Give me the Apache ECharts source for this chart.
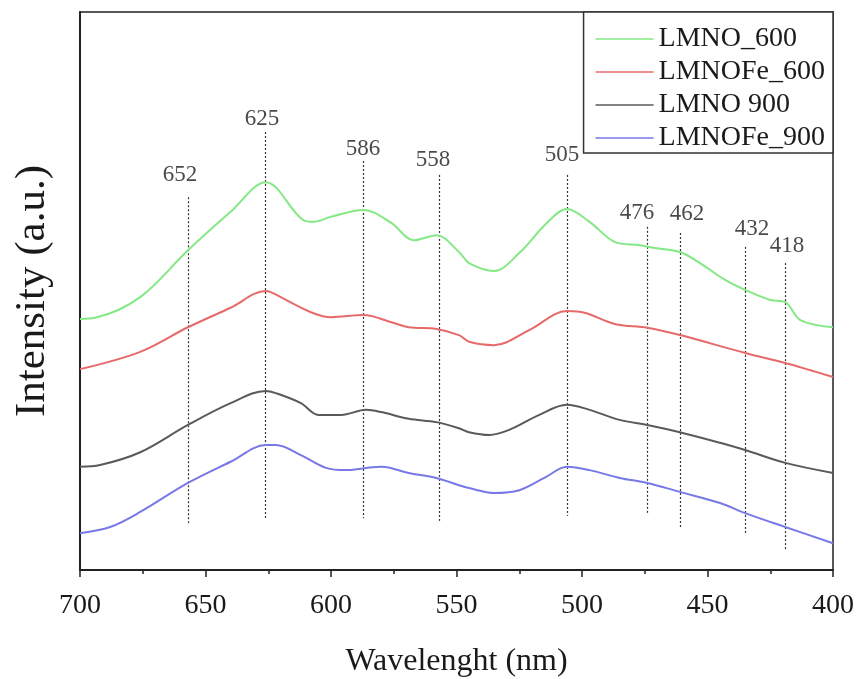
<!DOCTYPE html>
<html>
<head>
<meta charset="utf-8">
<script src="https://cdn.jsdelivr.net/npm/echarts@6.0.0/dist/echarts.min.js"></script>
<style>
  html, body { margin: 0; padding: 0; background: #fff; }
  #chart { width: 861px; height: 679px; }
</style>
</head>
<body>
<div id="chart"></div>
<script>
// wavelength (nm) / intensity (a.u., offset curves)
const lmno600W = [700, 694, 676, 657, 640, 626, 611, 607, 600, 587, 576, 567, 558, 549, 545, 535, 525, 514, 506, 497, 487, 477, 471, 461, 453, 443, 435, 425, 419, 413, 400];
const lmno600I = [45.0, 45.2, 48.9, 57.3, 64.2, 69.5, 62.7, 62.4, 63.3, 64.5, 62.2, 59.1, 60.0, 57.0, 55.0, 53.6, 56.8, 62.2, 64.7, 62.4, 58.8, 58.2, 57.7, 57.0, 55.0, 52.0, 50.2, 48.4, 48.0, 44.8, 43.5];

const lmnoFe600W = [700, 676, 657, 640, 626, 624, 608, 600, 587, 576, 569, 558, 549, 545, 535, 521, 506, 499, 487, 474, 461, 435, 419, 409, 400];
const lmnoFe600I = [36.0, 39.1, 43.5, 47.0, 50.0, 49.8, 46.2, 45.3, 45.7, 44.4, 43.5, 43.2, 42.1, 40.9, 40.3, 43.0, 46.4, 46.1, 44.1, 43.4, 42.1, 38.9, 37.1, 35.8, 34.6];

const lmno900W = [700, 692, 676, 657, 640, 626, 622, 612, 605, 596, 586, 580, 569, 558, 549, 545, 537, 529, 517, 506, 497, 485, 474, 461, 445, 435, 419, 400];
const lmno900I = [18.5, 18.8, 21.1, 26.0, 29.9, 32.1, 31.7, 29.9, 27.8, 27.8, 28.7, 28.3, 27.1, 26.5, 25.4, 24.7, 24.2, 25.1, 27.8, 29.6, 28.7, 26.9, 26.0, 24.7, 22.8, 21.5, 19.2, 17.4];

const lmnoFe900W = [700, 688, 676, 657, 640, 626, 622, 612, 602, 594, 586, 580, 569, 558, 549, 545, 535, 525, 515, 506, 497, 485, 474, 461, 445, 435, 419, 400];
const lmnoFe900I = [6.6, 7.7, 10.4, 15.6, 19.4, 22.4, 22.4, 20.6, 18.3, 17.9, 18.3, 18.5, 17.4, 16.5, 15.2, 14.7, 13.8, 14.3, 16.5, 18.5, 17.9, 16.5, 15.6, 14.0, 12.0, 10.2, 7.7, 4.8];

// peak markers: label text, dashed line position, line top/bottom, label anchor
const peakNames = ['652', '625', '586', '558', '505', '476', '462', '432', '418'];
const peakLineW = [657, 626, 587, 557, 506, 474, 461, 435, 419];
const peakTop = [66.8, 78.5, 73.3, 70.8, 70.8, 61.5, 60.4, 57.9, 55.0];
const peakBottom = [8.4, 9.3, 9.3, 8.8, 9.7, 10.2, 7.7, 6.6, 3.6];
const peakLabelW = [660.2, 627.5, 587.3, 559.4, 508.0, 478.1, 458.2, 432.3, 418.3];
const peakLabelI = [70.8, 80.8, 75.4, 73.5, 74.4, 64.0, 63.8, 61.1, 58.1];

const seriesNames = ['LMNO_600', 'LMNOFe_600', 'LMNO 900', 'LMNOFe_900'];
const seriesColors = ['#84e884', '#e66a6a', '#5a5a5a', '#7878e6'];

const FONT = '"Liberation Serif", "Times New Roman", serif';

const zip = (xs, ys) => xs.map((x, i) => [x, ys[i]]);

const curves = [
  zip(lmno600W, lmno600I),
  zip(lmnoFe600W, lmnoFe600I),
  zip(lmno900W, lmno900I),
  zip(lmnoFe900W, lmnoFe900I)
];

const peakLines = peakLineW.map((w, i) => [
  { coord: [w, peakTop[i]] },
  { coord: [w, peakBottom[i]] }
]);

const chart = echarts.init(document.getElementById('chart'));

const series = curves.map((data, i) => ({
  name: seriesNames[i],
  type: 'line',
  data: data,
  smooth: 0.35,
  symbol: 'none',
  lineStyle: { color: seriesColors[i], width: 2 },
  itemStyle: { color: seriesColors[i] },
  z: 3
}));

series[2].markLine = {
  silent: true,
  symbol: ['none', 'none'],
  label: { show: false },
  lineStyle: { color: '#333', type: [2, 2], width: 1.2 },
  data: peakLines,
  z: 2
};

series.push({
  name: 'peaks',
  type: 'scatter',
  data: peakLabelW.map((w, i) => [w, peakLabelI[i], peakNames[i]]),
  symbolSize: 0,
  silent: true,
  label: {
    show: true,
    position: 'inside',
    formatter: p => p.value[2],
    color: '#1a1a1a',
    fontFamily: FONT,
    fontSize: 23
  },
  z: 4
});

chart.setOption({
  backgroundColor: '#fff',
  animation: false,
  grid: {
    left: 80,
    right: 28,
    top: 12,
    bottom: 109,
    outerBoundsMode: 'none',
    containLabel: false,
    show: true,
    borderColor: '#222',
    borderWidth: 1.5
  },
  legend: {
    data: seriesNames,
    orient: 'vertical',
    right: 28,
    top: 12,
    icon: 'rect',
    itemWidth: 58,
    itemHeight: 1.5,
    itemGap: 3,
    padding: [12, 8, 0, 12],
    backgroundColor: '#fff',
    borderColor: '#333',
    borderWidth: 1.5,
    textStyle: {
      color: '#1a1a1a',
      fontFamily: FONT,
      fontSize: 28,
      lineHeight: 30
    }
  },
  xAxis: {
    type: 'value',
    inverse: true,
    min: 400,
    max: 700,
    interval: 50,
    name: 'Wavelenght (nm)',
    nameLocation: 'middle',
    nameGap: 76,
    nameTextStyle: { color: '#1a1a1a', fontFamily: FONT, fontSize: 32 },
    axisLine: { show: true, lineStyle: { color: '#222', width: 2 } },
    axisTick: { show: true, inside: false, length: 7, lineStyle: { color: '#222', width: 1.5 } },
    minorTick: { show: true, splitNumber: 2, length: 4, lineStyle: { color: '#222', width: 1.5 } },
    axisLabel: { color: '#1a1a1a', fontFamily: FONT, fontSize: 28, margin: 22 },
    splitLine: { show: false }
  },
  yAxis: {
    type: 'value',
    min: 0,
    max: 100,
    name: 'Intensity (a.u.)',
    nameLocation: 'middle',
    nameGap: 26,
    nameTextStyle: { color: '#1a1a1a', fontFamily: FONT, fontSize: 43 },
    axisLine: { show: true, lineStyle: { color: '#222', width: 2 } },
    axisTick: { show: false },
    axisLabel: { show: false },
    splitLine: { show: false }
  },
  series: series
});
</script>
</body>
</html>
